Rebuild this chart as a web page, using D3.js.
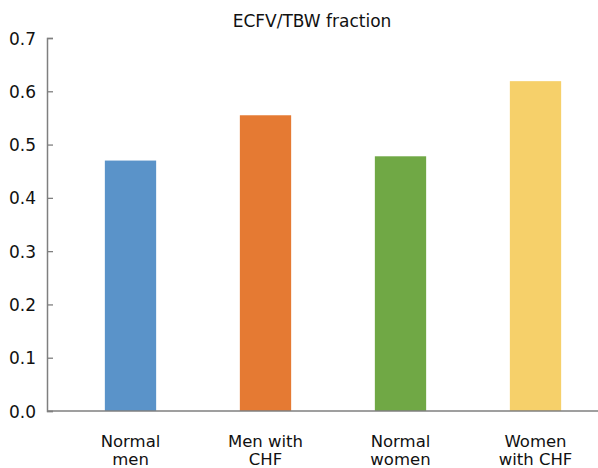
<!DOCTYPE html>
<html>
<head>
<meta charset="utf-8">
<script src="https://cdn.jsdelivr.net/npm/d3@7"></script>
<style>
  body { margin: 0; background: #fff; }
  text { font-family: "DejaVu Sans", sans-serif; fill: #111; }
</style>
</head>
<body>
<div id="chart"></div>
<script>
// data
var groups = [["Normal", "men"], ["Men with", "CHF"], ["Normal", "women"], ["Women", "with CHF"]];
var fractions = [0.470, 0.555, 0.478, 0.619];
var barColors = ["#5a93c9", "#e57a33", "#70a845", "#f6d06a"];
var yTicks = [0, 0.1, 0.2, 0.3, 0.4, 0.5, 0.6, 0.7];
var title = "ECFV/TBW fraction";

var W = 598, H = 468;
var axisX = 47, baseY = 411, topY = 38;

var svg = d3.select("#chart").append("svg")
    .attr("width", W)
    .attr("height", H);

var x = d3.scaleBand()
    .domain(d3.range(groups.length))
    .range([63, 603])
    .paddingInner(0.62)
    .paddingOuter(0.31);

var y = d3.scaleLinear()
    .domain([0, 0.7])
    .range([baseY, topY]);

// bars
svg.selectAll("rect.bar").data(fractions)
  .enter().append("rect")
    .attr("class", "bar")
    .attr("x", function(d, i) { return x(i); })
    .attr("width", x.bandwidth())
    .attr("y", function(d) { return y(d); })
    .attr("height", function(d) { return y(0) - y(d); })
    .style("fill", function(d, i) { return barColors[i]; });

// y axis, ticks pointing inward
var yAxis = svg.append("g")
    .attr("transform", "translate(" + axisX + ",0)")
    .call(d3.axisRight(y).tickValues(yTicks).tickSize(6).tickFormat(d3.format(".1f")));

yAxis.select(".domain").attr("stroke", "#7f7f7f").attr("stroke-width", 1.5);
yAxis.selectAll(".tick line").attr("stroke", "#7f7f7f").attr("stroke-width", 1.3);
yAxis.selectAll(".tick text")
    .attr("x", -11)
    .attr("dy", "0.36em")
    .attr("text-anchor", "end")
    .style("font-size", "17px")
    .style("font-family", "DejaVu Sans")
    .attr("fill", "#111");

// baseline
svg.append("line")
    .attr("x1", axisX).attr("x2", W)
    .attr("y1", baseY).attr("y2", baseY)
    .attr("stroke", "#7f7f7f")
    .attr("stroke-width", 1.5);

// category labels, two lines each
var labels = svg.selectAll("text.cat").data(groups)
  .enter().append("text")
    .attr("class", "cat")
    .attr("text-anchor", "middle")
    .style("font-size", "16.5px");

labels.selectAll("tspan").data(function(d, i) { return d.map(function(t) { return {t: t, i: i}; }); })
  .enter().append("tspan")
    .attr("x", function(d) { return x(d.i) + x.bandwidth() / 2; })
    .attr("y", function(d, j) { return 447 + j * 18; })
    .text(function(d) { return d.t; });

// title
svg.append("text")
    .attr("x", 312)
    .attr("y", 27)
    .attr("text-anchor", "middle")
    .style("font-size", "17px")
    .text(title);
</script>
</body>
</html>
